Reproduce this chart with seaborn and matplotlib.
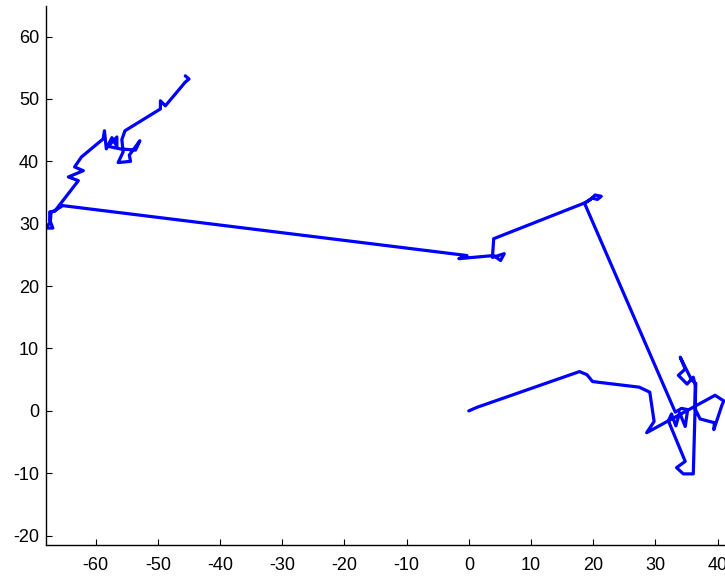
import matplotlib
matplotlib.use("Agg")
import matplotlib.pyplot as plt
import seaborn as sns
import pandas as pd

# Track coordinates (x, y) in drawing order
track_x = [
    0.0, 1.4, 17.8, 19.0, 19.9, 27.4, 29.1, 29.8, 28.6,
    39.6, 41.0, 40.7, 39.4, 39.5, 37.2, 36.4, 36.4, 36.1, 35.1, 33.7, 34.8, 34.0,
    34.9, 35.8, 36.5, 36.1, 34.5, 33.4, 34.8, 32.1, 32.6, 33.3, 33.9, 34.8, 35.2,
    34.2, 33.2,
    18.6, 19.6, 20.3, 21.3, 20.7, 19.8, 18.8, 4.0, 3.8, 5.7, 5.1, 4.0, -1.6, -0.3,
    -65.3, -66.6, -67.2, -67.3, -68.0, -66.9, -67.4, -67.4, -66.6,
    -62.8, -64.4, -62.0, -63.4, -62.3, -58.8, -58.6, -58.3, -57.4, -56.6, -56.6,
    -58.0, -56.1, -53.6, -52.9, -54.6, -54.4, -56.4, -55.6, -55.8, -55.3,
    -49.6, -49.6, -48.8, -45.6, -45.0, -45.6,
]
track_y = [
    0.0, 0.6, 6.3, 5.8, 4.7, 3.8, 3.0, -1.7, -3.5,
    2.5, 1.6, 0.9, -3.0, -1.9, -1.3, 0.3, 4.1, 5.4, 4.3, 5.7, 6.7, 8.6,
    6.8, 5.0, 4.4, -10.1, -10.1, -9.1, -8.1, -1.6, -0.5, -2.4, -0.3, -2.5, 0.2,
    0.4, -0.2,
    33.3, 33.9, 34.6, 34.4, 33.9, 34.1, 33.4, 27.6, 24.6, 25.2, 24.1, 24.9, 24.4, 24.9,
    32.9, 32.1, 31.8, 30.3, 29.3, 29.3, 30.6, 31.9, 32.0,
    36.9, 37.5, 38.5, 39.1, 40.7, 43.6, 44.9, 42.0, 43.8, 42.4, 43.9,
    42.4, 42.0, 41.8, 43.3, 41.0, 40.0, 39.8, 41.5, 43.5, 44.9,
    48.4, 49.7, 48.9, 52.7, 53.2, 53.7,
]

x_ticks = [-60, -50, -40, -30, -20, -10, 0, 10, 20, 30, 40]
y_ticks = [-20, -10, 0, 10, 20, 30, 40, 50, 60]

df = pd.DataFrame({"x": track_x, "y": track_y})

sns.set_style("ticks")
plt.rcParams["font.family"] = ["Liberation Sans", "DejaVu Sans"]
plt.rcParams["axes.unicode_minus"] = False

fig = plt.figure(figsize=(7.25, 5.77), dpi=100)
ax = fig.add_axes([46 / 725, 32 / 577, (725 - 46) / 725, (545 - 6) / 577])

sns.lineplot(data=df, x="x", y="y", sort=False, estimator=None,
             color="#0000ff", linewidth=2.3, ax=ax)

ax.set_xlim(-68.0, 41.2)
ax.set_ylim(-21.5, 64.9)
ax.set_xticks(x_ticks)
ax.set_yticks(y_ticks)
ax.set_xlabel("")
ax.set_ylabel("")

for side in ("top", "right"):
    ax.spines[side].set_visible(False)
for side in ("left", "bottom"):
    ax.spines[side].set_color("black")
    ax.spines[side].set_linewidth(1.0)

ax.tick_params(axis="both", direction="in", length=4, width=0.8,
               colors="black", labelsize=13)
ax.tick_params(axis="x", pad=9)
ax.tick_params(axis="y", pad=5)

fig.savefig("out.png", dpi=100, facecolor="white")
